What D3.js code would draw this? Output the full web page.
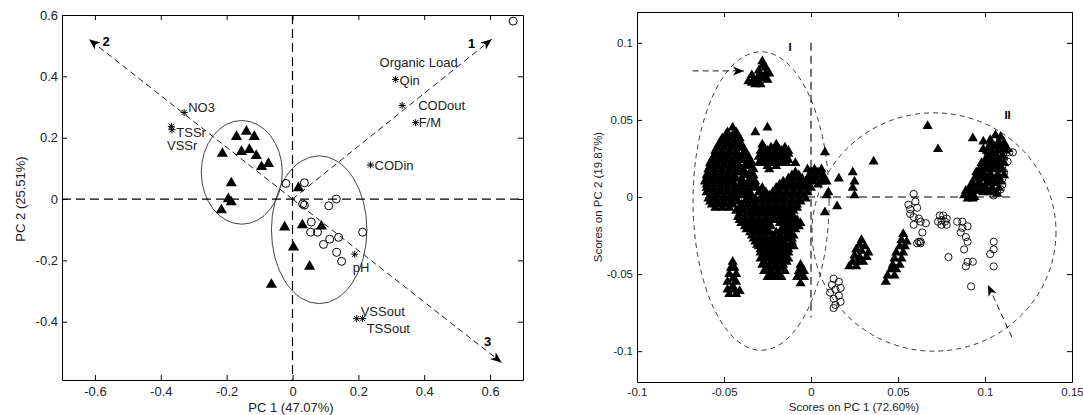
<!DOCTYPE html>
<html>
<head>
<meta charset="utf-8">
<script src="https://cdn.jsdelivr.net/npm/d3@7"></script>
<style>
  body { margin: 0; background: #fff; }
  svg { font-family: "Liberation Sans", Arial, sans-serif; }
</style>
</head>
<body>
<svg id="chart" width="1083" height="415"></svg>
<script>
// ---------- left panel: loadings + scores (PC1 47.07%, PC2 25.51%) ----------
const leftXTicks = [-0.6, -0.4, -0.2, 0, 0.2, 0.4, 0.6];
const leftYTicks = [-0.4, -0.2, 0, 0.2, 0.4, 0.6];

const leftTriangles = [
  [-0.140, 0.220], [-0.170, 0.203], [-0.116, 0.203], [-0.213, 0.148], [-0.155, 0.154],
  [-0.131, 0.161], [-0.110, 0.141], [-0.094, 0.105], [-0.073, 0.115], [-0.186, 0.052],
  [-0.195, 0.000], [-0.186, -0.010], [-0.216, -0.036], [-0.024, -0.092], [0.030, -0.085],
  [0.088, -0.089], [0.003, -0.157], [0.052, -0.220], [-0.064, -0.279], [0.018, 0.036]
];
const leftCircles = [
  [-0.020, 0.051], [0.036, 0.053], [0.031, -0.016], [0.036, -0.020], [0.110, -0.022],
  [0.133, 0.000], [0.670, 0.580], [0.057, -0.075], [0.055, -0.108], [0.076, -0.108],
  [0.094, -0.148], [0.113, -0.131], [0.140, -0.125], [0.134, -0.174], [0.149, -0.203],
  [0.213, -0.108]
];

const loadingNames = ["NO3", "TSSr", "VSSr", "Qin", "CODout", "F/M", "CODin", "pH", "VSSout", "TSSout"];
const loadingValues = [
  [-0.329, 0.282], [-0.368, 0.237], [-0.366, 0.226], [0.313, 0.390], [0.333, 0.305],
  [0.374, 0.249], [0.237, 0.111], [0.189, -0.180], [0.195, -0.390], [0.213, -0.390]
];

const axisNames = ["1", "2", "3"];
const axisEnds = [[0.605, 0.521], [-0.618, 0.521], [0.635, -0.533]];

// cx, cy, rx, ry
const leftEllipses = [[-0.154, 0.087, 0.123, 0.169], [0.081, -0.100, 0.145, 0.241]];

// ---------- right panel: scores (PC1 72.60%, PC2 19.87%) ----------
const rightXTicks = [-0.1, -0.05, 0, 0.05, 0.1, 0.15];
const rightYTicks = [-0.1, -0.05, 0, 0.05, 0.1];

const rightTriangles = [
  // top group pointed at by the arrow
  [-0.028, 0.088], [-0.026, 0.084], [-0.030, 0.082], [-0.024, 0.080], [-0.034, 0.079], [-0.031, 0.077],
  [-0.027, 0.077], [-0.036, 0.075], [-0.032, 0.073], [-0.029, 0.073], [-0.025, 0.076],
  [-0.033, 0.076], [-0.029, 0.079], [-0.026, 0.080], [-0.028, 0.085], [-0.034, 0.074], [-0.030, 0.075],
  [-0.032, 0.042], [-0.025, 0.045],
  // group I main mass
  [-0.045, 0.045],
  [-0.048, 0.042], [-0.043, 0.042],
  [-0.049, 0.040], [-0.045, 0.040], [-0.042, 0.040],
  [-0.051, 0.038], [-0.047, 0.038], [-0.041, 0.038],
  [-0.052, 0.036], [-0.048, 0.036], [-0.044, 0.036], [-0.041, 0.036],
  [-0.053, 0.034], [-0.049, 0.034], [-0.045, 0.034], [-0.040, 0.034], [-0.028, 0.034], [-0.020, 0.034],
  [-0.054, 0.032], [-0.050, 0.032], [-0.046, 0.032], [-0.042, 0.032], [-0.039, 0.032],
  [-0.027, 0.032], [-0.023, 0.032], [-0.019, 0.032], [-0.015, 0.032],
  [-0.055, 0.030], [-0.051, 0.030], [-0.047, 0.030], [-0.043, 0.030], [-0.038, 0.030], [-0.029, 0.030],
  [-0.025, 0.030], [-0.021, 0.030], [-0.017, 0.030], [-0.013, 0.030],
  [-0.055, 0.028], [-0.051, 0.028], [-0.047, 0.028], [-0.043, 0.028], [-0.039, 0.028], [-0.037, 0.028],
  [-0.028, 0.028], [-0.024, 0.028], [-0.020, 0.028], [-0.016, 0.028], [-0.013, 0.028],
  [-0.056, 0.026], [-0.052, 0.026], [-0.048, 0.026], [-0.044, 0.026], [-0.040, 0.026], [-0.036, 0.026],
  [-0.030, 0.026], [-0.026, 0.026], [-0.022, 0.026], [-0.018, 0.026], [-0.014, 0.026],
  [-0.057, 0.024], [-0.053, 0.024], [-0.049, 0.024], [-0.045, 0.024], [-0.041, 0.024], [-0.037, 0.024],
  [-0.035, 0.024], [-0.028, 0.024], [-0.024, 0.024], [-0.020, 0.024], [-0.016, 0.024], [-0.013, 0.024],
  [-0.058, 0.022], [-0.054, 0.022], [-0.050, 0.022], [-0.046, 0.022], [-0.042, 0.022], [-0.037, 0.022],
  [-0.034, 0.022], [-0.030, 0.022], [-0.026, 0.022], [-0.022, 0.022], [-0.018, 0.022], [-0.014, 0.022],
  [-0.009, 0.022],
  [-0.058, 0.020], [-0.054, 0.020], [-0.050, 0.020], [-0.046, 0.020], [-0.042, 0.020], [-0.038, 0.020],
  [-0.035, 0.020], [-0.025, 0.020], [-0.020, 0.020],
  [-0.059, 0.018], [-0.055, 0.018], [-0.051, 0.018], [-0.047, 0.018], [-0.043, 0.018], [-0.039, 0.018],
  [-0.033, 0.018], [-0.024, 0.018], [-0.002, 0.018], [0.002, 0.018], [0.006, 0.018],
  [-0.059, 0.016], [-0.055, 0.016], [-0.051, 0.016], [-0.047, 0.016], [-0.043, 0.016], [-0.039, 0.016],
  [-0.035, 0.016], [-0.009, 0.016], [0.000, 0.016], [0.004, 0.016],
  [-0.060, 0.014], [-0.056, 0.014], [-0.052, 0.014], [-0.048, 0.014], [-0.044, 0.014], [-0.037, 0.014],
  [-0.033, 0.014], [-0.011, 0.014], [-0.007, 0.014], [-0.001, 0.014], [0.003, 0.014], [0.007, 0.014],
  [-0.060, 0.012], [-0.056, 0.012], [-0.052, 0.012], [-0.048, 0.012], [-0.044, 0.012], [-0.040, 0.012],
  [-0.035, 0.012], [-0.034, 0.012], [-0.013, 0.012], [-0.009, 0.012], [-0.005, 0.012], [-0.001, 0.012],
  [0.003, 0.012], [0.007, 0.012],
  [-0.061, 0.010], [-0.057, 0.010], [-0.053, 0.010], [-0.049, 0.010], [-0.045, 0.010], [-0.040, 0.010],
  [-0.036, 0.010], [-0.032, 0.010], [-0.016, 0.010], [-0.011, 0.010], [-0.007, 0.010], [-0.003, 0.010],
  [0.001, 0.010], [0.006, 0.010], [0.009, 0.010],
  [-0.060, 0.008], [-0.056, 0.008], [-0.052, 0.008], [-0.048, 0.008], [-0.044, 0.008], [-0.040, 0.008],
  [-0.036, 0.008], [-0.032, 0.008], [-0.018, 0.008], [-0.014, 0.008], [-0.010, 0.008], [-0.006, 0.008],
  [-0.002, 0.008], [0.004, 0.008],
  [-0.060, 0.006], [-0.056, 0.006], [-0.052, 0.006], [-0.048, 0.006], [-0.044, 0.006], [-0.040, 0.006],
  [-0.036, 0.006], [-0.032, 0.006], [-0.028, 0.006], [-0.020, 0.006], [-0.016, 0.006], [-0.012, 0.006],
  [-0.008, 0.006], [-0.004, 0.006], [0.000, 0.006],
  [-0.060, 0.003], [-0.056, 0.003], [-0.052, 0.003], [-0.048, 0.003], [-0.044, 0.003], [-0.040, 0.003],
  [-0.036, 0.003], [-0.030, 0.003], [-0.026, 0.003], [-0.022, 0.003], [-0.018, 0.003], [-0.014, 0.003],
  [-0.010, 0.003], [-0.006, 0.003], [-0.002, 0.003],
  [-0.058, 0.001], [-0.054, 0.001], [-0.050, 0.001], [-0.046, 0.001], [-0.042, 0.001], [-0.038, 0.001],
  [-0.034, 0.001], [-0.028, 0.001], [-0.024, 0.001], [-0.020, 0.001], [-0.016, 0.001], [-0.012, 0.001],
  [-0.008, 0.001], [-0.004, 0.001],
  [-0.059, -0.001], [-0.055, -0.001], [-0.051, -0.001], [-0.047, -0.001], [-0.043, -0.001], [-0.036, -0.001],
  [-0.032, -0.001], [-0.028, -0.001], [-0.024, -0.001], [-0.020, -0.001], [-0.016, -0.001], [-0.011, -0.001],
  [-0.007, -0.001], [-0.003, -0.001],
  [-0.058, -0.003], [-0.054, -0.003], [-0.050, -0.003], [-0.046, -0.003], [-0.042, -0.003], [-0.038, -0.003],
  [-0.034, -0.003], [-0.030, -0.003], [-0.026, -0.003], [-0.022, -0.003], [-0.018, -0.003], [-0.014, -0.003],
  [-0.010, -0.003], [-0.006, -0.003],
  [-0.057, -0.005], [-0.053, -0.005], [-0.049, -0.005], [-0.045, -0.005], [-0.040, -0.005], [-0.036, -0.005],
  [-0.032, -0.005], [-0.028, -0.005], [-0.024, -0.005], [-0.020, -0.005], [-0.016, -0.005], [-0.012, -0.005],
  [-0.008, -0.005],
  [-0.055, -0.007], [-0.051, -0.007], [-0.047, -0.007], [-0.041, -0.007], [-0.037, -0.007], [-0.032, -0.007],
  [-0.028, -0.007], [-0.024, -0.007], [-0.020, -0.007], [-0.016, -0.007], [-0.012, -0.007], [-0.008, -0.007],
  [-0.043, -0.009], [-0.039, -0.009], [-0.034, -0.009], [-0.030, -0.009], [-0.026, -0.009], [-0.022, -0.009],
  [-0.018, -0.009], [-0.014, -0.009], [-0.010, -0.009],
  [-0.041, -0.011], [-0.036, -0.011], [-0.032, -0.011], [-0.028, -0.011], [-0.024, -0.011], [-0.020, -0.011],
  [-0.016, -0.011], [-0.012, -0.011],
  [-0.042, -0.013], [-0.038, -0.013], [-0.034, -0.013], [-0.030, -0.013], [-0.026, -0.013], [-0.022, -0.013],
  [-0.018, -0.013], [-0.014, -0.013], [-0.010, -0.013],
  [-0.041, -0.015], [-0.037, -0.015], [-0.033, -0.015], [-0.029, -0.015], [-0.025, -0.015], [-0.021, -0.015],
  [-0.016, -0.015], [-0.012, -0.015], [-0.008, -0.015],
  [-0.040, -0.017], [-0.036, -0.017], [-0.032, -0.017], [-0.028, -0.017], [-0.024, -0.017], [-0.018, -0.017],
  [-0.014, -0.017], [-0.010, -0.017], [-0.006, -0.017],
  [-0.038, -0.019], [-0.035, -0.019], [-0.031, -0.019], [-0.027, -0.019], [-0.023, -0.019], [-0.015, -0.019],
  [-0.011, -0.019], [-0.007, -0.019],
  [-0.037, -0.021], [-0.033, -0.021], [-0.029, -0.021], [-0.025, -0.021], [-0.017, -0.021], [-0.013, -0.021],
  [-0.009, -0.021],
  [-0.035, -0.023], [-0.032, -0.023], [-0.028, -0.023], [-0.024, -0.023], [-0.020, -0.023], [-0.016, -0.023],
  [-0.012, -0.023],
  [-0.034, -0.025], [-0.030, -0.025], [-0.026, -0.025], [-0.022, -0.025], [-0.018, -0.025], [-0.014, -0.025],
  [-0.010, -0.025],
  [-0.033, -0.027], [-0.030, -0.027], [-0.026, -0.027], [-0.022, -0.027], [-0.018, -0.027], [-0.014, -0.027],
  [-0.011, -0.027],
  [-0.032, -0.029], [-0.028, -0.029], [-0.024, -0.029], [-0.020, -0.029], [-0.016, -0.029], [-0.011, -0.029],
  [-0.031, -0.031], [-0.027, -0.031], [-0.023, -0.031], [-0.019, -0.031], [-0.015, -0.031], [-0.012, -0.031],
  [-0.030, -0.032], [-0.026, -0.032], [-0.022, -0.032], [-0.018, -0.032], [-0.014, -0.032], [-0.010, -0.032],
  [-0.029, -0.034], [-0.025, -0.034], [-0.021, -0.034], [-0.017, -0.034], [-0.013, -0.034],
  [-0.029, -0.036], [-0.025, -0.036], [-0.021, -0.036], [-0.017, -0.036], [-0.013, -0.036],
  [-0.027, -0.038], [-0.023, -0.038], [-0.019, -0.038], [-0.015, -0.038],
  [-0.029, -0.040], [-0.025, -0.040], [-0.021, -0.040], [-0.017, -0.040], [-0.013, -0.040],
  [-0.027, -0.042], [-0.022, -0.042], [-0.018, -0.042], [-0.014, -0.042],
  [-0.028, -0.044], [-0.024, -0.044], [-0.020, -0.044], [-0.016, -0.044], [-0.006, -0.044],
  [-0.025, -0.046], [-0.021, -0.046], [-0.017, -0.046], [-0.006, -0.046],
  [-0.027, -0.048], [-0.023, -0.048], [-0.019, -0.048], [-0.015, -0.048], [-0.007, -0.048], [-0.004, -0.048],
  [-0.023, -0.050], [-0.019, -0.050], [-0.006, -0.050],
  [-0.025, -0.052], [-0.021, -0.052], [-0.017, -0.052], [-0.008, -0.052], [-0.004, -0.052],
  [-0.006, -0.056],
  // narrow stack lower left
  [-0.045, -0.042], [-0.046, -0.046], [-0.044, -0.046], [-0.047, -0.050], [-0.043, -0.050], [-0.045, -0.053],
  [-0.048, -0.055], [-0.043, -0.055], [-0.045, -0.058], [-0.048, -0.060], [-0.044, -0.060], [-0.041, -0.061],
  [-0.047, -0.063], [-0.043, -0.063],
  // scattered near the origin and inside II
  [0.008, 0.029], [0.016, 0.012], [0.024, 0.016], [0.025, 0.010], [0.024, 0.006], [0.025, 0.001],
  [0.036, 0.023], [0.067, 0.046], [0.073, 0.031], [0.015, -0.006], [0.009, 0.001], [0.008, -0.010],
  [0.010, 0.003],
  // two slanted bands
  [0.029, -0.028], [0.028, -0.031], [0.031, -0.032], [0.026, -0.034], [0.029, -0.035], [0.033, -0.036],
  [0.025, -0.038], [0.028, -0.039], [0.032, -0.039], [0.024, -0.042], [0.027, -0.042], [0.030, -0.042],
  [0.022, -0.045], [0.026, -0.045],
  [0.053, -0.024], [0.052, -0.028], [0.055, -0.029], [0.051, -0.032], [0.054, -0.032], [0.049, -0.036],
  [0.053, -0.036], [0.048, -0.040], [0.052, -0.040], [0.047, -0.044], [0.051, -0.044], [0.046, -0.047],
  [0.049, -0.047], [0.044, -0.051], [0.048, -0.051], [0.043, -0.055],
  // group II dense column
  [0.093, 0.038], [0.099, 0.036], [0.099, 0.031], [0.106, 0.040], [0.109, 0.039], [0.103, 0.037],
  [0.108, 0.036], [0.111, 0.035], [0.105, 0.033], [0.109, 0.032], [0.113, 0.031],
  [0.103, 0.034], [0.107, 0.034], [0.111, 0.034],
  [0.101, 0.030], [0.104, 0.030], [0.108, 0.030], [0.112, 0.030],
  [0.102, 0.029], [0.106, 0.028], [0.110, 0.027],
  [0.102, 0.026], [0.106, 0.026], [0.110, 0.026],
  [0.100, 0.024], [0.104, 0.024], [0.108, 0.023], [0.111, 0.022],
  [0.098, 0.022], [0.102, 0.022], [0.106, 0.022], [0.109, 0.022],
  [0.098, 0.020], [0.102, 0.019], [0.106, 0.019], [0.110, 0.018],
  [0.097, 0.018], [0.100, 0.018], [0.104, 0.018], [0.108, 0.018],
  [0.095, 0.016], [0.099, 0.016], [0.103, 0.015], [0.107, 0.014], [0.111, 0.014],
  [0.096, 0.013], [0.100, 0.013], [0.104, 0.013], [0.108, 0.013],
  [0.094, 0.012], [0.098, 0.012], [0.102, 0.011], [0.106, 0.010], [0.109, 0.010],
  [0.093, 0.009], [0.097, 0.009], [0.101, 0.009], [0.105, 0.009],
  [0.092, 0.008], [0.096, 0.008], [0.100, 0.007], [0.104, 0.006], [0.108, 0.006],
  [0.091, 0.005], [0.095, 0.004], [0.099, 0.003], [0.103, 0.003], [0.107, 0.002],
  [0.089, 0.004], [0.093, 0.004], [0.097, 0.004], [0.101, 0.004], [0.105, 0.004],
  [0.088, 0.001], [0.091, 0.001], [0.094, 0.000], [0.090, -0.001], [0.093, -0.001]
];

const rightCircles = [
  // right edge of group II column
  [0.111, 0.032], [0.114, 0.029], [0.116, 0.029], [0.111, 0.025], [0.113, 0.023], [0.110, 0.020],
  [0.111, 0.016], [0.110, 0.012], [0.110, 0.008], [0.109, 0.005], [0.107, 0.003], [0.105, 0.001],
  // column below the origin line
  [0.059, 0.002], [0.056, -0.005], [0.060, -0.003], [0.057, -0.008], [0.061, -0.007], [0.057, -0.011],
  [0.059, -0.013], [0.062, -0.014], [0.063, -0.016], [0.059, -0.018], [0.066, -0.017], [0.064, -0.023],
  // tight knot
  [0.074, -0.012], [0.076, -0.012], [0.078, -0.014], [0.075, -0.015], [0.077, -0.016], [0.073, -0.016],
  [0.075, -0.018], [0.078, -0.018],
  [0.062, -0.029], [0.063, -0.030], [0.063, -0.029], [0.061, -0.030],
  // scattered right
  [0.084, -0.016], [0.087, -0.016], [0.090, -0.019], [0.087, -0.020], [0.086, -0.023], [0.089, -0.026],
  [0.090, -0.029], [0.088, -0.034], [0.079, -0.039], [0.090, -0.042], [0.093, -0.042], [0.089, -0.045],
  [0.092, -0.058], [0.105, -0.029], [0.105, -0.034], [0.103, -0.037], [0.105, -0.045],
  // cluster where I and II meet
  [0.013, -0.053], [0.016, -0.055], [0.012, -0.057], [0.017, -0.059], [0.014, -0.060], [0.011, -0.062],
  [0.016, -0.064], [0.013, -0.066], [0.017, -0.068], [0.014, -0.070], [0.013, -0.072]
];

const rightEllipses = [[-0.0287, -0.0026, 0.0391, 0.0968], [0.0707, -0.0227, 0.0701, 0.0773]];
const groupNames = ["I", "II"];
const groupLabelAt = [[-0.012, 0.0974], [0.113, 0.053]];
// arrows: [x1, y1, x2, y2], head at the second point
const rightArrows = [[-0.068, 0.0818, -0.0385, 0.0818], [0.1155, -0.091, 0.1017, -0.057]];

// ---------- drawing ----------
const FONT = '"Liberation Sans", Arial, sans-serif';
const svg = d3.select("#chart");
const fmt = d => (d === 0 ? "0" : String(d));

const defs = svg.append("defs");
defs.append("marker")
  .attr("id", "head")
  .attr("viewBox", "-12 -6 14 12")
  .attr("refX", 0).attr("refY", 0)
  .attr("markerWidth", 14).attr("markerHeight", 12)
  .attr("markerUnits", "userSpaceOnUse")
  .attr("orient", "auto")
  .append("path")
  .attr("d", "M0,0 L-11,-4.5 L-8,0 L-11,4.5 Z")
  .attr("fill", "#000");

// box with inward ticks on all four sides, MATLAB style
function drawFrame(x, y, xTicks, yTicks, fontSize, padX, padY) {
  const [x0, x1] = x.range();
  const [y0, y1] = y.range();
  const axes = [
    [d3.axisBottom(x).tickValues(xTicks).tickFormat(fmt).tickPadding(padX), `translate(0,${y0})`],
    [d3.axisTop(x).tickValues(xTicks).tickFormat(""), `translate(0,${y1})`],
    [d3.axisLeft(y).tickValues(yTicks).tickFormat(fmt).tickPadding(padY), `translate(${x0},0)`],
    [d3.axisRight(y).tickValues(yTicks).tickFormat(""), `translate(${x1},0)`]
  ];
  axes.forEach(([ax, tr]) => {
    const g = svg.append("g")
      .attr("transform", tr)
      .call(ax.tickSize(-5).tickSizeOuter(0));
    g.attr("font-family", FONT).attr("font-size", fontSize);
    g.selectAll("text").attr("fill", "#222");
    g.selectAll("path, line").attr("stroke", "#000");
  });
}

function ellipse(x, y, e) {
  const [cx, cy, rx, ry] = e;
  return svg.append("ellipse")
    .attr("cx", x(cx)).attr("cy", y(cy))
    .attr("rx", x(cx + rx) - x(cx)).attr("ry", y(cy) - y(cy + ry))
    .attr("fill", "none");
}

const tri = (size) => d3.symbol().type(d3.symbolTriangle).size(size);

// ===== left panel =====
const xL = d3.scaleLinear().domain([-0.7, 0.7]).range([62, 523]);
const yL = d3.scaleLinear().domain([-0.59, 0.6]).range([380, 15]);

leftEllipses.forEach(e => ellipse(xL, yL, e).attr("stroke", "#444").attr("stroke-width", 1));

// zero lines
svg.append("line")
  .attr("x1", xL(-0.7)).attr("x2", xL(0.7)).attr("y1", yL(0)).attr("y2", yL(0))
  .attr("stroke", "#000").attr("stroke-width", 1.2).attr("stroke-dasharray", "9,5");
svg.append("line")
  .attr("x1", xL(0)).attr("x2", xL(0)).attr("y1", yL(0.6)).attr("y2", yL(-0.59))
  .attr("stroke", "#000").attr("stroke-width", 1.2).attr("stroke-dasharray", "9,5");

// component axes 1,2,3 from the origin
const armOffset = { "1": [-20, 4], "2": [17, 2], "3": [-14, -21] };
axisEnds.forEach((p, i) => {
  svg.append("line")
    .attr("x1", xL(0)).attr("y1", yL(0))
    .attr("x2", xL(p[0])).attr("y2", yL(p[1]))
    .attr("stroke", "#000").attr("stroke-width", 0.9)
    .attr("stroke-dasharray", "6,4")
    .attr("marker-end", "url(#head)");
  const o = armOffset[axisNames[i]];
  svg.append("text")
    .attr("x", xL(p[0]) + o[0]).attr("y", yL(p[1]) + o[1])
    .attr("dy", "0.35em").attr("text-anchor", "middle")
    .attr("font-size", 13).attr("font-weight", "bold")
    .text(axisNames[i]);
});

// loadings as asterisks
const star = "M-3.5,0H3.5M0,-3.5V3.5M-2.6,-2.6L2.6,2.6M-2.6,2.6L2.6,-2.6";
const labelOffset = {
  "NO3": [4, -5], "TSSr": [5, 6], "VSSr": [-5, 16], "Qin": [4, 1], "CODout": [16, 0],
  "F/M": [3, 0], "CODin": [4, 0], "pH": [-2, 13], "VSSout": [4, -7], "TSSout": [4, 10]
};
loadingValues.forEach((p, i) => {
  svg.append("path")
    .attr("transform", `translate(${xL(p[0])},${yL(p[1])})`)
    .attr("d", star).attr("stroke", "#000").attr("stroke-width", 1);
  const o = labelOffset[loadingNames[i]];
  svg.append("text")
    .attr("x", xL(p[0]) + o[0]).attr("y", yL(p[1]) + o[1])
    .attr("dy", "0.35em").attr("font-size", 13).attr("fill", "#222")
    .text(loadingNames[i]);
});
// group caption above Qin
svg.append("text")
  .attr("x", xL(loadingValues[3][0]) - 16).attr("y", yL(loadingValues[3][1]) - 17)
  .attr("dy", "0.35em").attr("font-size", 13).attr("fill", "#222")
  .text("Organic Load");

svg.append("g").selectAll("path")
  .data(leftTriangles)
  .join("path")
  .attr("transform", d => `translate(${xL(d[0])},${yL(d[1])})`)
  .attr("d", tri(54))
  .attr("fill", "#000");

svg.append("g").selectAll("circle")
  .data(leftCircles)
  .join("circle")
  .attr("cx", d => xL(d[0])).attr("cy", d => yL(d[1]))
  .attr("r", 4).attr("fill", "none").attr("stroke", "#000").attr("stroke-width", 1);

drawFrame(xL, yL, leftXTicks, leftYTicks, 13, 7, 4);

svg.append("text")
  .attr("x", 291).attr("y", 412)
  .attr("text-anchor", "middle").attr("font-size", 13).attr("fill", "#222")
  .text("PC 1 (47.07%)");
svg.append("text")
  .attr("transform", "translate(25,199) rotate(-90)")
  .attr("text-anchor", "middle").attr("font-size", 13).attr("fill", "#222")
  .text("PC 2 (25.51%)");

// ===== right panel =====
const xR = d3.scaleLinear().domain([-0.1, 0.15]).range([637, 1072]);
const yR = d3.scaleLinear().domain([-0.12, 0.12]).range([382, 12]);

rightEllipses.forEach(e =>
  ellipse(xR, yR, e).attr("stroke", "#222").attr("stroke-width", 0.9).attr("stroke-dasharray", "5,4"));

svg.append("line")
  .attr("x1", xR(-0.0098)).attr("x2", xR(0.116)).attr("y1", yR(0)).attr("y2", yR(0))
  .attr("stroke", "#000").attr("stroke-width", 1.1).attr("stroke-dasharray", "8,5");
svg.append("line")
  .attr("x1", xR(0)).attr("x2", xR(0)).attr("y1", yR(0.1)).attr("y2", yR(-0.078))
  .attr("stroke", "#000").attr("stroke-width", 1.1).attr("stroke-dasharray", "8,5");

rightArrows.forEach(a => {
  svg.append("line")
    .attr("x1", xR(a[0])).attr("y1", yR(a[1]))
    .attr("x2", xR(a[2])).attr("y2", yR(a[3]))
    .attr("stroke", "#000").attr("stroke-width", 0.9)
    .attr("stroke-dasharray", "6,4")
    .attr("marker-end", "url(#head)");
});

svg.append("g").selectAll("path")
  .data(rightTriangles)
  .join("path")
  .attr("transform", d => `translate(${xR(d[0])},${yR(d[1])})`)
  .attr("d", tri(44))
  .attr("fill", "#000");

svg.append("g").selectAll("circle")
  .data(rightCircles)
  .join("circle")
  .attr("cx", d => xR(d[0])).attr("cy", d => yR(d[1]))
  .attr("r", 3.6).attr("fill", "none").attr("stroke", "#000").attr("stroke-width", 0.9);

groupNames.forEach((n, i) => {
  svg.append("text")
    .attr("x", xR(groupLabelAt[i][0])).attr("y", yR(groupLabelAt[i][1]))
    .attr("dy", "0.35em").attr("text-anchor", "middle")
    .attr("font-size", 11.5).attr("font-weight", "bold")
    .text(n);
});

drawFrame(xR, yR, rightXTicks, rightYTicks, 11.5, 6, 4);

svg.append("text")
  .attr("x", 854).attr("y", 411)
  .attr("text-anchor", "middle").attr("font-size", 11.5).attr("fill", "#222")
  .text("Scores on PC 1 (72.60%)");
svg.append("text")
  .attr("transform", "translate(602,197) rotate(-90)")
  .attr("text-anchor", "middle").attr("font-size", 11.5).attr("fill", "#222")
  .text("Scores on PC 2 (19.87%)");
</script>
</body>
</html>
